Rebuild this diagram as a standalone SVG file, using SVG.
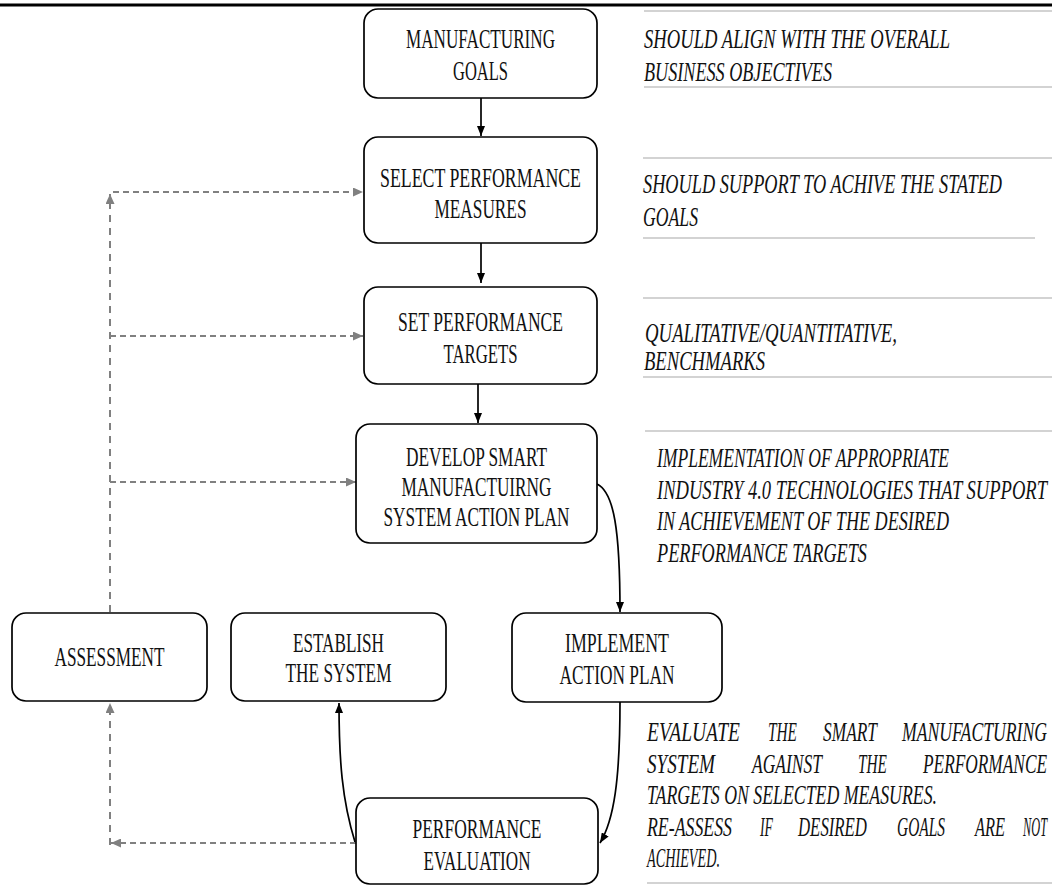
<svg xmlns="http://www.w3.org/2000/svg" width="1052" height="886" viewBox="0 0 1052 886">
<style>
.box{fill:#fff;stroke:#000;stroke-width:1.7}
.bt{font-family:"Liberation Serif","DejaVu Serif",serif;font-size:27px;fill:#111;text-anchor:middle}
.it{font-family:"Liberation Serif","DejaVu Serif",serif;font-size:27px;font-style:italic;fill:#111}
.sep{stroke:#c4c4c4;stroke-width:1.6;fill:none}
.solid{stroke:#000;stroke-width:1.7;fill:none}
.dash{stroke:#808080;stroke-width:2;fill:none;stroke-dasharray:6 4}
.dashv{stroke:#808080;stroke-width:2;fill:none;stroke-dasharray:7 6}
</style>
<defs>
<marker id="ab" markerUnits="userSpaceOnUse" markerWidth="10" markerHeight="8" refX="10" refY="4" orient="auto"><path d="M0,0 L10,4 L0,8 z" fill="#000"/></marker>
<marker id="ag" markerUnits="userSpaceOnUse" markerWidth="10" markerHeight="9" refX="10" refY="4.5" orient="auto"><path d="M0,0 L10,4.5 L0,9 z" fill="#808080"/></marker>
</defs>
<rect width="1052" height="886" fill="#fff"/>
<line x1="0" y1="5" x2="1052" y2="5" stroke="#000" stroke-width="3"/>

<g id="connectors">
<line class="solid" x1="481" y1="98" x2="481" y2="136" marker-end="url(#ab)"/>
<line class="solid" x1="481" y1="243" x2="481" y2="283" marker-end="url(#ab)"/>
<line class="solid" x1="478" y1="384" x2="478" y2="423" marker-end="url(#ab)"/>
<path class="solid" d="M597,484 C614,492 620,530 620,612" marker-end="url(#ab)"/>
<path class="solid" d="M620,702 C620,780 614,820 600,843" marker-end="url(#ab)"/>
<path class="solid" d="M355,842 C342,800 339,760 339,703" marker-end="url(#ab)"/>
<path class="dashv" d="M110,612 V194" marker-end="url(#ag)"/>
<path class="dash" d="M113,192 H363" marker-end="url(#ag)"/>
<path class="dash" d="M110,336 H363" marker-end="url(#ag)"/>
<path class="dash" d="M110,482 H356" marker-end="url(#ag)"/>
<path class="dash" d="M356,843 H111" marker-end="url(#ag)"/>
<path class="dashv" d="M110,845 V703" marker-end="url(#ag)"/>
</g>

<g id="n-goals">
<rect class="box" x="364" y="9" width="233" height="89" rx="14"/>
<text class="bt" x="480.5" y="48" textLength="149" lengthAdjust="spacingAndGlyphs">MANUFACTURING</text>
<text class="bt" x="480.5" y="80" textLength="55" lengthAdjust="spacingAndGlyphs">GOALS</text>
</g>
<g id="n-select">
<rect class="box" x="364" y="137" width="233" height="106" rx="14"/>
<text class="bt" x="480.5" y="187" textLength="201" lengthAdjust="spacingAndGlyphs">SELECT  PERFORMANCE</text>
<text class="bt" x="480.5" y="218" textLength="92" lengthAdjust="spacingAndGlyphs">MEASURES</text>
</g>
<g id="n-set">
<rect class="box" x="364" y="287" width="233" height="97" rx="14"/>
<text class="bt" x="480.5" y="331" textLength="165" lengthAdjust="spacingAndGlyphs">SET PERFORMANCE</text>
<text class="bt" x="480.5" y="363" textLength="74" lengthAdjust="spacingAndGlyphs">TARGETS</text>
</g>
<g id="n-develop">
<rect class="box" x="356" y="424" width="241" height="119" rx="14"/>
<text class="bt" x="476.5" y="466" textLength="141" lengthAdjust="spacingAndGlyphs">DEVELOP SMART</text>
<text class="bt" x="476.5" y="496" textLength="150" lengthAdjust="spacingAndGlyphs">MANUFACTUIRNG</text>
<text class="bt" x="476.5" y="526" textLength="186" lengthAdjust="spacingAndGlyphs">SYSTEM ACTION PLAN</text>
</g>
<g id="n-implement">
<rect class="box" x="512" y="613" width="210" height="89" rx="14"/>
<text class="bt" x="617" y="652" textLength="104" lengthAdjust="spacingAndGlyphs">IMPLEMENT</text>
<text class="bt" x="617" y="684" textLength="115" lengthAdjust="spacingAndGlyphs">ACTION PLAN</text>
</g>
<g id="n-assessment">
<rect class="box" x="12" y="613" width="195" height="88" rx="14"/>
<text class="bt" x="109.5" y="666" textLength="110" lengthAdjust="spacingAndGlyphs">ASSESSMENT</text>
</g>
<g id="n-establish">
<rect class="box" x="231" y="613" width="215" height="88" rx="14"/>
<text class="bt" x="338.5" y="652" textLength="91" lengthAdjust="spacingAndGlyphs">ESTABLISH</text>
<text class="bt" x="338.5" y="682" textLength="106" lengthAdjust="spacingAndGlyphs">THE SYSTEM</text>
</g>
<g id="n-evaluation">
<rect class="box" x="356" y="798" width="242" height="86" rx="14"/>
<text class="bt" x="477" y="838" textLength="129" lengthAdjust="spacingAndGlyphs">PERFORMANCE</text>
<text class="bt" x="477" y="870" textLength="107" lengthAdjust="spacingAndGlyphs">EVALUATION</text>
</g>

<g id="notes">
<line class="sep" x1="644" y1="11" x2="1052" y2="11"/>
<text class="it" x="644" y="48" textLength="306" lengthAdjust="spacingAndGlyphs">SHOULD ALIGN WITH THE OVERALL</text>
<text class="it" x="644" y="81" textLength="188" lengthAdjust="spacingAndGlyphs">BUSINESS OBJECTIVES</text>
<line class="sep" x1="644" y1="87" x2="1052" y2="87"/>

<line class="sep" x1="643" y1="158" x2="1052" y2="158"/>
<text class="it" x="643" y="193" textLength="359" lengthAdjust="spacingAndGlyphs">SHOULD SUPPORT TO ACHIVE THE STATED</text>
<text class="it" x="643" y="226" textLength="55" lengthAdjust="spacingAndGlyphs">GOALS</text>
<line class="sep" x1="643" y1="238" x2="1035" y2="238"/>

<line class="sep" x1="643" y1="298" x2="1052" y2="298"/>
<text class="it" x="645" y="342" textLength="252" lengthAdjust="spacingAndGlyphs">QUALITATIVE/QUANTITATIVE,</text>
<text class="it" x="644" y="370" textLength="121" lengthAdjust="spacingAndGlyphs">BENCHMARKS</text>
<line class="sep" x1="643" y1="377" x2="1052" y2="377"/>

<line class="sep" x1="645" y1="431" x2="1052" y2="431"/>
<text class="it" x="657" y="467" textLength="292" lengthAdjust="spacingAndGlyphs">IMPLEMENTATION OF APPROPRIATE</text>
<text class="it" x="657" y="499" textLength="390" lengthAdjust="spacingAndGlyphs">INDUSTRY 4.0 TECHNOLOGIES THAT SUPPORT</text>
<text class="it" x="657" y="530" textLength="292" lengthAdjust="spacingAndGlyphs">IN ACHIEVEMENT OF THE DESIRED</text>
<text class="it" x="657" y="562" textLength="210" lengthAdjust="spacingAndGlyphs">PERFORMANCE TARGETS</text>

<text class="it" x="647" y="741" textLength="93" lengthAdjust="spacingAndGlyphs">EVALUATE</text>
<text class="it" x="768" y="741" textLength="29" lengthAdjust="spacingAndGlyphs">THE</text>
<text class="it" x="823" y="741" textLength="54" lengthAdjust="spacingAndGlyphs">SMART</text>
<text class="it" x="902" y="741" textLength="145" lengthAdjust="spacingAndGlyphs">MANUFACTURING</text>
<text class="it" x="647" y="773" textLength="68" lengthAdjust="spacingAndGlyphs">SYSTEM</text>
<text class="it" x="752" y="773" textLength="70" lengthAdjust="spacingAndGlyphs">AGAINST</text>
<text class="it" x="858" y="773" textLength="29" lengthAdjust="spacingAndGlyphs">THE</text>
<text class="it" x="923" y="773" textLength="124" lengthAdjust="spacingAndGlyphs">PERFORMANCE</text>
<text class="it" x="647" y="804" textLength="290" lengthAdjust="spacingAndGlyphs">TARGETS ON SELECTED MEASURES.</text>
<text class="it" x="647" y="836" textLength="85" lengthAdjust="spacingAndGlyphs">RE-ASSESS</text>
<text class="it" x="760" y="836" textLength="13" lengthAdjust="spacingAndGlyphs">IF</text>
<text class="it" x="798" y="836" textLength="69" lengthAdjust="spacingAndGlyphs">DESIRED</text>
<text class="it" x="897" y="836" textLength="48" lengthAdjust="spacingAndGlyphs">GOALS</text>
<text class="it" x="975" y="836" textLength="30" lengthAdjust="spacingAndGlyphs">ARE</text>
<text class="it" x="1023" y="836" textLength="24" lengthAdjust="spacingAndGlyphs">NOT</text>
<text class="it" x="647" y="867" textLength="73" lengthAdjust="spacingAndGlyphs">ACHIEVED.</text>
<line class="sep" x1="647" y1="883" x2="1052" y2="883"/>
</g>
</svg>
